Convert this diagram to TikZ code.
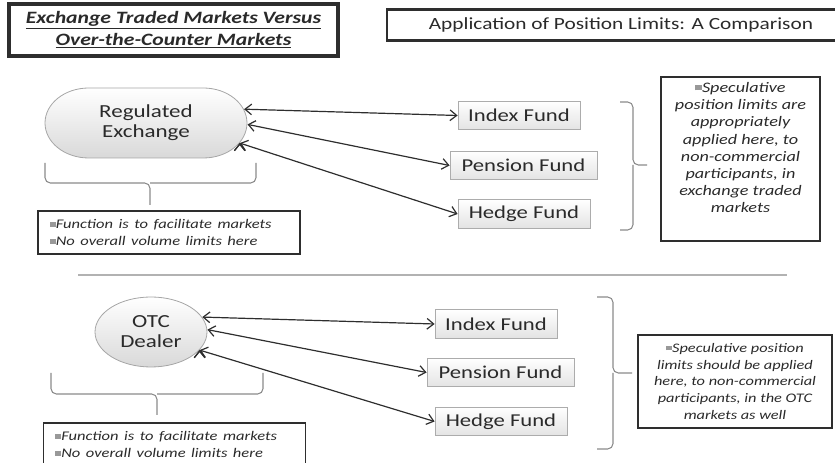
\documentclass[tikz,border=0pt]{standalone}
\usepackage{fontspec}
\setmainfont{Carlito}
\usetikzlibrary{arrows.meta,positioning,shapes.misc,shapes.geometric}

\definecolor{ink}{HTML}{2A2A2A}
\definecolor{rim}{HTML}{2E2E2E}
\definecolor{brc}{HTML}{8A8A8A}
\newcommand{\sqbul}{{\color{gray!80}\rule[0.3ex]{0.36em}{0.36em}}}

\tikzset{
  hdbox/.style={draw=rim, line width=1.6pt, text=ink, align=center, inner sep=0pt},
  market/.style={draw=gray!70, line width=0.6pt, top color=white, bottom color=gray!30,
    text=ink, align=center, font=\fontsize{13.8}{15}\selectfont, inner sep=0pt},
  fund/.style={draw=gray!65, line width=0.6pt, top color=white, bottom color=gray!22,
    text=ink, font=\fontsize{13.6}{16}\selectfont, minimum height=21.5pt, inner sep=0pt},
  notebox/.style={draw=rim, line width=1.2pt, text=ink, font=\fontsize{9.9}{12.6}\selectfont\itshape,
    align=left, text width=143pt, inner xsep=7pt, minimum height=32.25pt},
  limitbox/.style={draw=rim, line width=1.3pt, text=ink, align=center, inner sep=0pt},
  link/.style={<->, >={Straight Barb[length=5pt,width=8pt]}, draw=rim, line width=0.9pt},
  curly/.style={draw=brc, line width=0.8pt, rounded corners=4pt}
}

\begin{document}
\begin{tikzpicture}[x=0.6pt,y=-0.75pt,xscale=1.25,transform shape]
  \useasboundingbox (0,0) rectangle (835,463);

  % headings
  \node[hdbox, line width=2.4pt, minimum width=197.4pt, minimum height=39pt,
        font=\fontsize{13}{16.5}\selectfont\bfseries\itshape] (ettitle) at (173.5,30)
        {\underline{Exchange Traded Markets Versus}\\\underline{Over-the-Counter Markets}};
  \node[hdbox, line width=2pt, minimum width=280.8pt, minimum height=23.25pt,
        font=\fontsize{12.8}{15}\selectfont] (apptitle) at (621,25)
        {Application of Position Limits: A Comparison};

  % exchange traded side
  \node[market, rounded rectangle, minimum width=121.2pt, minimum height=52.5pt] (reg) at (146,123)
        {Regulated\\Exchange};
  \node[fund, minimum width=73.2pt]  (index1)   at (519,115.5) {Index Fund};
  \node[fund, minimum width=88.2pt]  (pension1) at (523.5,165.5) {Pension Fund};
  \node[fund, minimum width=79.2pt]  (hedge1)   at (524,214) {Hedge Fund};
  \path[link]
  (reg.10)  edge (index1.west)
  (reg.-1)  edge (pension1.west)
  (reg.-15) edge (hedge1.west);
  \node[notebox] (note1) at (169,232.5)
        {\sqbul Function is to facilitate markets\\\sqbul No overall volume limits here};
  \node[limitbox, minimum width=95.4pt, minimum height=123pt,
        font=\fontsize{10.9}{12.9}\selectfont\itshape] (lim1) at (740.5,159)
        {\sqbul Speculative\\position limits are\\appropriately\\applied here, to\\non-commercial\\participants, in\\exchange traded\\markets\\[4pt]};

  \draw[curly] (45,163) |- (150,183) -- (150,205);
  \draw[curly] (256,163) |- (150,183);
  \draw[curly] (620,102) -| (633,165) -- (647,165);
  \draw[curly] (620,230) -| (633,165);

  % separator
  \draw[gray!60, line width=2pt] (78,275) -- (787,275);

  % otc side
  \node[market, ellipse, minimum width=67.2pt, minimum height=52.5pt] (otc) at (151,332)
        {OTC\\Dealer};
  \node[fund, minimum width=73.2pt]  (index2)   at (496,324) {Index Fund};
  \node[fund, minimum width=88.2pt]  (pension2) at (500.5,372.5) {Pension Fund};
  \node[fund, minimum width=79.2pt]  (hedge2)   at (501,421.5) {Hedge Fund};
  \path[link]
  (otc.20)  edge (index2.west)
  (otc.3)   edge (pension2.west)
  (otc.-25) edge (hedge2.west);
  \node[notebox] (note2) at (174.5,444.5)
        {\sqbul Function is to facilitate markets\\\sqbul No overall volume limits here};
  \node[limitbox, minimum width=116.4pt, minimum height=69.75pt,
        font=\fontsize{9.8}{12.7}\selectfont\itshape] (lim2) at (735,381.5)
        {\sqbul Speculative position\\limits should be applied\\here, to non-commercial\\participants, in the OTC\\markets as well};

  \draw[curly] (51,373) |- (157,394) -- (157,415);
  \draw[curly] (263,373) |- (157,394);
  \draw[curly] (597,297) -| (613,373) -- (632,373);
  \draw[curly] (597,449) -| (613,373);
\end{tikzpicture}
\end{document}
